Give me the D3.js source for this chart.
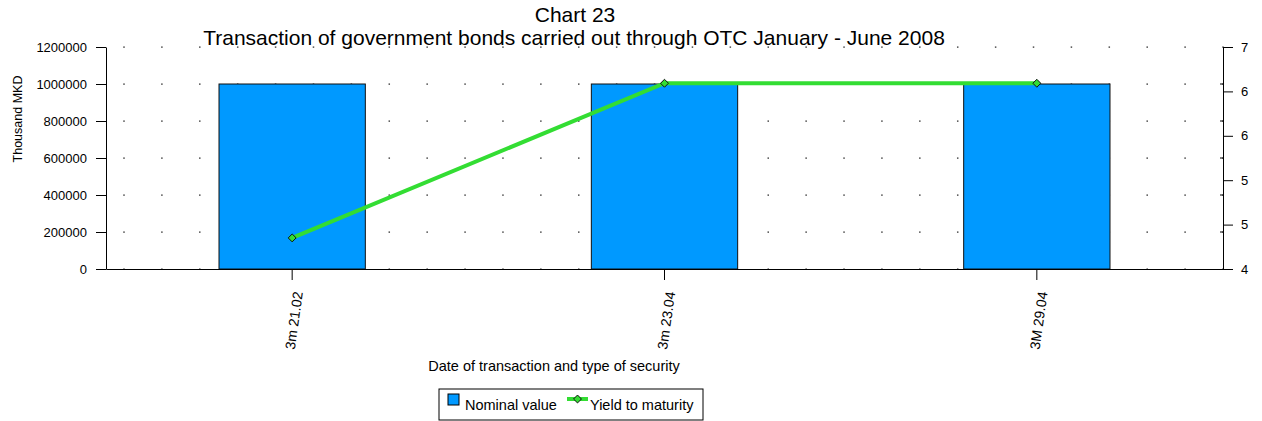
<!DOCTYPE html>
<html lang="en">
<head>
    <meta charset="utf-8" />
    <title>Chart 23</title>
    <script src="https://d3js.org/d3.v7.min.js"></script>
    <style>
        body { margin: 0; background: #fff; }
        text { font-family: "Liberation Sans", Arial, sans-serif; fill: #000; }
        .axis path, .axis line { stroke: #000; }
    </style>
</head>
<body>
<script>
    // data
    var categories = ["3m 21.02", "3m 23.04", "3M 29.04"];
    var nominalValue = [1000000, 1000000, 1000000];
    var yieldToMaturity = [4.42, 6.51, 6.51];
    var leftTicks = [0, 200000, 400000, 600000, 800000, 1000000, 1200000];
    var rightTicks = [4, 4.6, 5.2, 5.8, 6.4, 7];
    var rightMinor = [4.5, 5, 5.5, 6, 6.5];

    var width = 1262, height = 421;
    var margin = { top: 47, right: 39, bottom: 152, left: 106 };
    var w = width - margin.left - margin.right;
    var h = height - margin.top - margin.bottom;

    var svg = d3.select("body").append("svg")
        .attr("width", width)
        .attr("height", height);

    var g = svg.append("g").attr("transform", "translate(" + margin.left + "," + margin.top + ")");

    var x = d3.scaleBand().domain(categories).range([0, w]).paddingInner(0).paddingOuter(0);
    var yL = d3.scaleLinear().domain([0, 1200000]).range([h, 0]);
    var yR = d3.scaleLinear().domain([4, 7]).range([h, 0]);

    // dotted grid
    var nDots = 30, dx0 = 18;
    var dotX = d3.range(nDots).map(function (i) { return dx0 + i * (w - dx0) / (nDots - 1); });
    leftTicks.forEach(function (t) {
        g.selectAll(null).data(dotX).enter().append("rect")
            .attr("x", function (d) { return d - 0.75; })
            .attr("y", yL(t) - 0.5)
            .attr("width", 1.5).attr("height", 1.2)
            .attr("fill", "#222");
    });

    // bars
    var barW = x.bandwidth() * 0.393;
    g.selectAll(".bar").data(categories).enter().append("rect")
        .attr("class", "bar")
        .attr("x", function (d) { return x(d) + x.bandwidth() / 2 - barW / 2; })
        .attr("y", function (d, i) { return yL(nominalValue[i]); })
        .attr("width", barW)
        .attr("height", function (d, i) { return h - yL(nominalValue[i]); })
        .attr("fill", "#0099FF")
        .attr("stroke", "#111")
        .attr("stroke-width", 1);

    // left axis
    var ax = g.append("g").attr("class", "axis")
        .call(d3.axisLeft(yL).tickValues(leftTicks).tickFormat(d3.format("d")).tickSize(10).tickPadding(9).tickSizeOuter(0));
    ax.selectAll("text").style("font-size", "13px");

    // right axis
    var ar = g.append("g").attr("class", "axis").attr("transform", "translate(" + w + ",0)")
        .call(d3.axisRight(yR).tickValues(rightTicks).tickFormat(d3.format(".0f")).tickSize(10).tickPadding(8).tickSizeOuter(0));
    ar.selectAll("text").style("font-size", "13px");
    ar.selectAll(".minor").data(rightMinor).enter().append("line")
        .attr("class", "minor")
        .attr("x1", -3).attr("x2", 0)
        .attr("y1", function (d) { return yR(d); })
        .attr("y2", function (d) { return yR(d); })
        .attr("stroke", "#000");

    // bottom axis
    var ab = g.append("g").attr("class", "axis").attr("transform", "translate(0," + h + ")")
        .call(d3.axisBottom(x).tickSize(11).tickSizeOuter(0).tickPadding(0));
    ab.selectAll("text")
        .style("font-size", "14px")
        .attr("text-anchor", "end")
        .attr("dy", "0.35em")
        .attr("transform", "translate(-5,21) rotate(-82)");

    // yield line
    var line = d3.line()
        .x(function (d, i) { return x(categories[i]) + x.bandwidth() / 2; })
        .y(function (d) { return yR(d); });
    g.append("path").datum(yieldToMaturity)
        .attr("d", line)
        .attr("fill", "none")
        .attr("stroke", "#33DD33")
        .attr("stroke-width", 4);
    g.selectAll(".mk").data(yieldToMaturity).enter().append("path")
        .attr("class", "mk")
        .attr("d", d3.symbol().type(d3.symbolDiamond2).size(40))
        .attr("transform", function (d, i) {
            return "translate(" + (x(categories[i]) + x.bandwidth() / 2) + "," + yR(d) + ")";
        })
        .attr("fill", "#33DD33")
        .attr("stroke", "#111")
        .attr("stroke-width", 1);

    // titles
    svg.append("text").attr("x", 575).attr("y", 22).attr("text-anchor", "middle")
        .style("font-size", "21px").text("Chart 23");
    svg.append("text").attr("x", 574).attr("y", 45).attr("text-anchor", "middle")
        .style("font-size", "21px").text("Transaction of government bonds carried out through OTC January - June 2008");
    svg.append("text").attr("transform", "translate(22,119) rotate(-90)")
        .attr("text-anchor", "middle").style("font-size", "12.5px").text("Thousand MKD");
    svg.append("text").attr("x", 554).attr("y", 371).attr("text-anchor", "middle")
        .style("font-size", "14.5px").text("Date of transaction and type of security");

    // legend
    var lg = svg.append("g").attr("transform", "translate(439,389)");
    lg.append("rect").attr("width", 264).attr("height", 31)
        .attr("fill", "#fff").attr("stroke", "#000").attr("stroke-width", 1);
    lg.append("rect").attr("x", 9).attr("y", 5).attr("width", 11).attr("height", 11)
        .attr("fill", "#0099FF").attr("stroke", "#000");
    lg.append("text").attr("x", 26).attr("y", 21).style("font-size", "14.5px").text("Nominal value");
    lg.append("line").attr("x1", 128).attr("x2", 149).attr("y1", 10).attr("y2", 10)
        .attr("stroke", "#33DD33").attr("stroke-width", 4);
    lg.append("path").attr("d", d3.symbol().type(d3.symbolDiamond2).size(40))
        .attr("transform", "translate(138.5,10)")
        .attr("fill", "#33DD33").attr("stroke", "#111");
    lg.append("text").attr("x", 151).attr("y", 21).style("font-size", "14.5px").text("Yield to maturity");
</script>
</body>
</html>
